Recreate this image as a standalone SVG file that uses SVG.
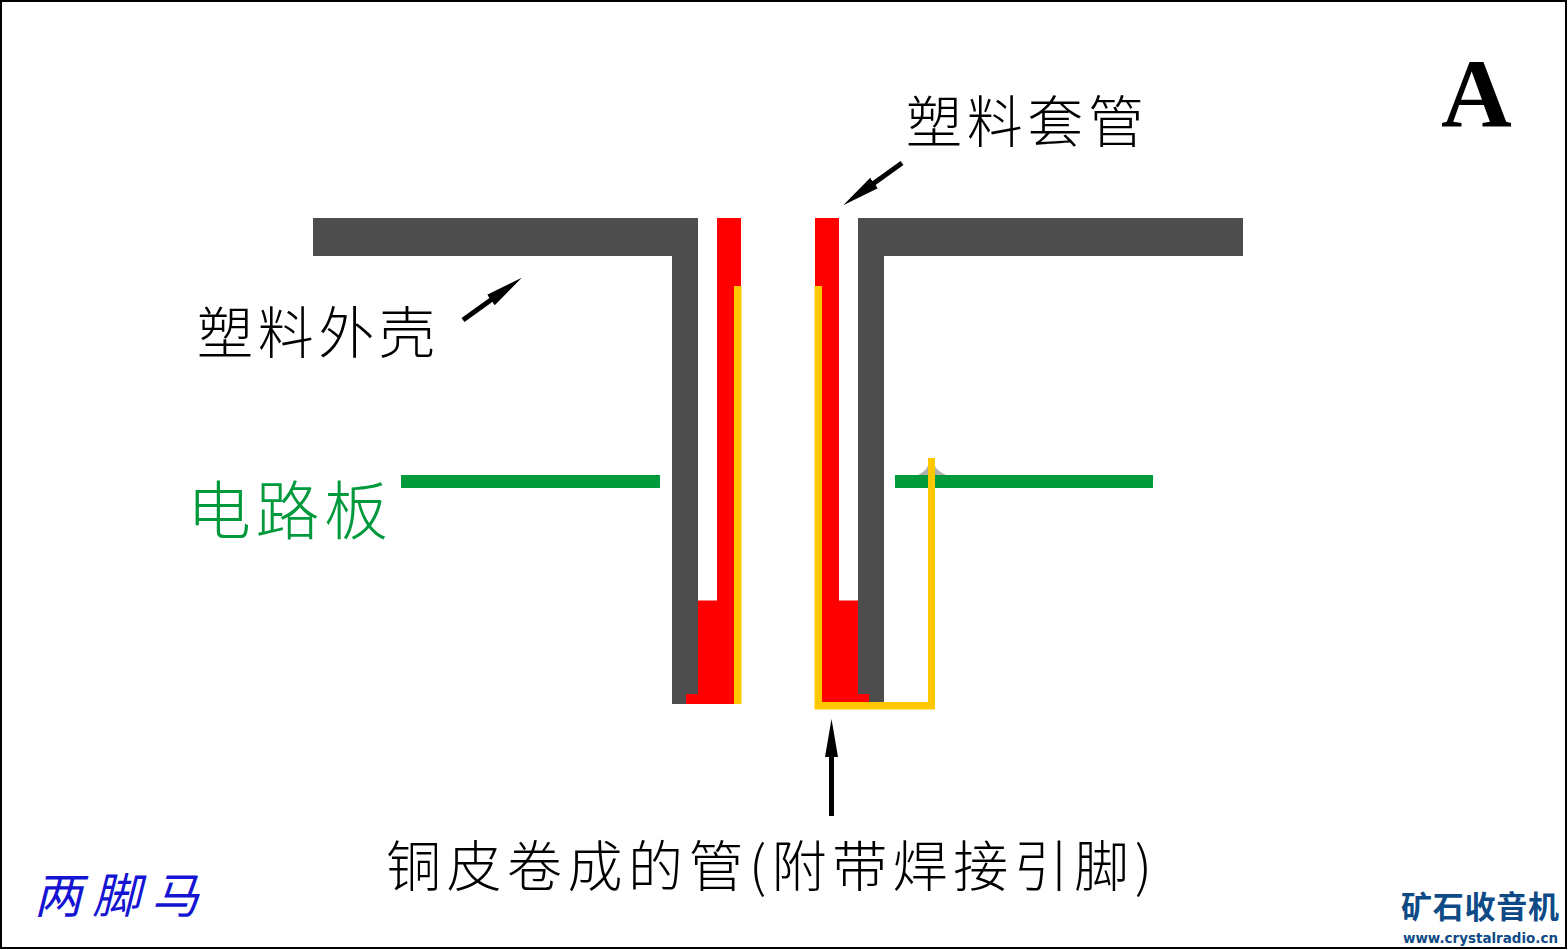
<svg xmlns="http://www.w3.org/2000/svg" width="1568" height="950" viewBox="0 0 1568 950">
<style>
.g{fill:#4d4d4d}.r{fill:#ff0000}.y{fill:#ffc800}.p{fill:#009a3c}
.t{font-family:"Noto Sans CJK SC","Noto Sans CJK JP",sans-serif;font-weight:300;font-size:56px;fill:#000}
.a{stroke:#000;stroke-width:5;fill:none;marker-end:url(#ah)}
</style>
<defs><marker id="ah" markerUnits="userSpaceOnUse" markerWidth="40" markerHeight="16" refX="5" refY="8" orient="auto"><path d="M0 1.500L38 8L0 14.500Z" fill="#000"/></marker></defs>
<rect x="1" y="1" width="1565" height="947" fill="#fff" stroke="#000" stroke-width="2"/>
<g id="shell">
<path class="g" d="M313 218H698V704H672V256H313Z"/>
<path class="g" d="M858 218H1243V256H884V703H858Z"/>
</g>
<g id="board">
<path d="M918 475Q928 471 931 458Q935 471 946 475Z" fill="#b0b0b0"/>
<rect class="p" x="401" y="475" width="259" height="13"/>
<rect class="p" x="895" y="475" width="258" height="13"/>
</g>
<g id="sleeve">
<path class="r" d="M717 218H741V704H686V694H698V600.500H717Z"/>
<path class="r" d="M815 218H839V600.500H858V694H869V703H815Z"/>
</g>
<g id="copper">
<rect class="y" x="734" y="286" width="7.500" height="418"/>
<path class="y" d="M814.500 286H822V702H928V458H935V709.500H814.500Z"/>
</g>
<g id="connectors">
<path class="a" d="M463 320L495 297"/>
<path class="a" d="M902 163L870 186"/>
<path class="a" d="M831.500 816V752"/>
</g>
<g id="labels">
<text class="t" x="906" y="142" textLength="238">塑料套管</text>
<text class="t" x="197" y="353" textLength="238">塑料外壳</text>
<text class="t" x="187" y="534" textLength="201" style="fill:#009a3c;font-size:64px">电路板</text>
<text class="t" x="386" y="886" textLength="766" style="font-size:55px">铜皮卷成的管(附带焊接引脚)</text>
<text x="1441" y="126" font-family="Liberation Serif,serif" font-weight="700" font-size="98" fill="#000">A</text>
<text class="t" x="34" y="913" textLength="165" style="fill:#1414d2;font-size:48px;font-style:italic;font-weight:400">两脚马</text>
<text class="t" x="1401" y="918" textLength="158" style="fill:#0e4a86;font-size:31px;font-weight:700">矿石收音机</text>
<text x="1403" y="943" textLength="155" lengthAdjust="spacingAndGlyphs" font-family="DejaVu Sans,sans-serif" font-weight="700" font-size="14" fill="#0e4a86">www.crystalradio.cn</text>
</g>
</svg>
